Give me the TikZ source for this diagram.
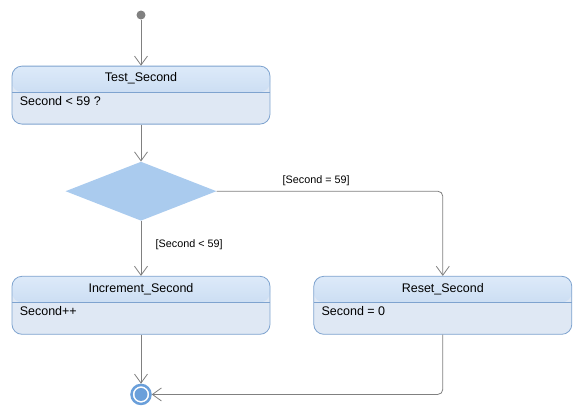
\documentclass[tikz,border=0pt]{standalone}
\usepackage{fontspec}
\setmainfont{Liberation Sans}
\usepackage{tikz}
\usetikzlibrary{arrows.meta,positioning,shapes.geometric}

\definecolor{lineGray}{HTML}{808080}
\definecolor{stateBorder}{HTML}{7EA3CF}
\definecolor{stateBody}{HTML}{DFE8F4}
\definecolor{headTop}{HTML}{DDEAF9}
\definecolor{headBottom}{HTML}{B7CFEC}
\definecolor{choiceFill}{HTML}{AACBEE}
\definecolor{ringBlue}{HTML}{6A9FDA}

\begin{document}
\begin{tikzpicture}[x=1pt,y=-1pt]
		\tikzstyle{initial} = [circle, fill=lineGray, inner sep=0pt, minimum size=9pt]
		\tikzstyle{state} = [rectangle, rounded corners=10pt, draw=stateBorder, line width=0.8pt,
		fill=stateBody, minimum width=258pt, minimum height=58pt, inner sep=0pt,
		path picture={
			\shade[top color=headTop, bottom color=headBottom] (path picture bounding box.north west)
			rectangle ([yshift=-26pt]path picture bounding box.north east);
			\draw[stateBorder, line width=0.8pt] ([yshift=-26pt]path picture bounding box.north west)
			-- ([yshift=-26pt]path picture bounding box.north east);
		}]
		\tikzstyle{choice} = [diamond, fill=choiceFill, inner sep=0pt, minimum width=151pt, minimum height=59pt]
		\tikzstyle{finalState} = [circle, draw=ringBlue, line width=2.5pt, fill=white, inner sep=0pt,
		minimum size=19pt, path picture={\fill[ringBlue] (path picture bounding box.center) circle (6.5pt);}]
		\tikzstyle{title} = [font=\fontsize{12.5}{14}\selectfont, inner sep=0pt]
		\tikzstyle{body} = [font=\fontsize{12.5}{14}\selectfont, inner sep=0pt, anchor=west]
		\tikzstyle{guard} = [font=\fontsize{10.8}{12}\selectfont, text=black]
		\tikzstyle{arrow} = [lineGray, line width=0.8pt, ->, >={Straight Barb[length=9pt,width=13pt]}]
		\useasboundingbox (0,0) rectangle (582,416);
		\node (start) [initial] at (141,15) {};
		\node (testSecond) [state, below=46pt of start] {};
		\node (decision) [choice, below=37pt of testSecond] {};
		\node (incSecond) [state, below=55pt of decision] {};
		\node (resetSecond) [state, right=43pt of incSecond] {};
		\node (final) [finalState, below=49pt of incSecond] {};
		\node (testTitle) [title] at ([yshift=-13pt]testSecond.north) {Test\_Second};
		\node (testBody) [body] at ([xshift=8pt,yshift=-35pt]testSecond.north west) {Second < 59 ?};
		\node (incTitle) [title] at ([yshift=-13pt]incSecond.north) {Increment\_Second};
		\node (incBody) [body] at ([xshift=8pt,yshift=-35pt]incSecond.north west) {Second++};
		\node (resetTitle) [title] at ([yshift=-13pt]resetSecond.north) {Reset\_Second};
		\node (resetBody) [body] at ([xshift=8pt,yshift=-35pt]resetSecond.north west) {Second = 0};
		\draw [arrow] (start) -- (testSecond);
		\draw [arrow] (testSecond) -- (decision);
		\draw [arrow] (decision) -- node[guard, pos=0.44, right=11pt] {[Second < 59]} (incSecond);
		\draw [arrow, rounded corners=5pt] (decision.east) -| node[guard, pos=0.22, above=2pt] {[Second = 59]} (resetSecond.north);
		\draw [arrow] (incSecond) -- (final);
		\draw [arrow, rounded corners=5pt] (resetSecond.south) |- (final.east);
		\end{tikzpicture}
\end{document}
